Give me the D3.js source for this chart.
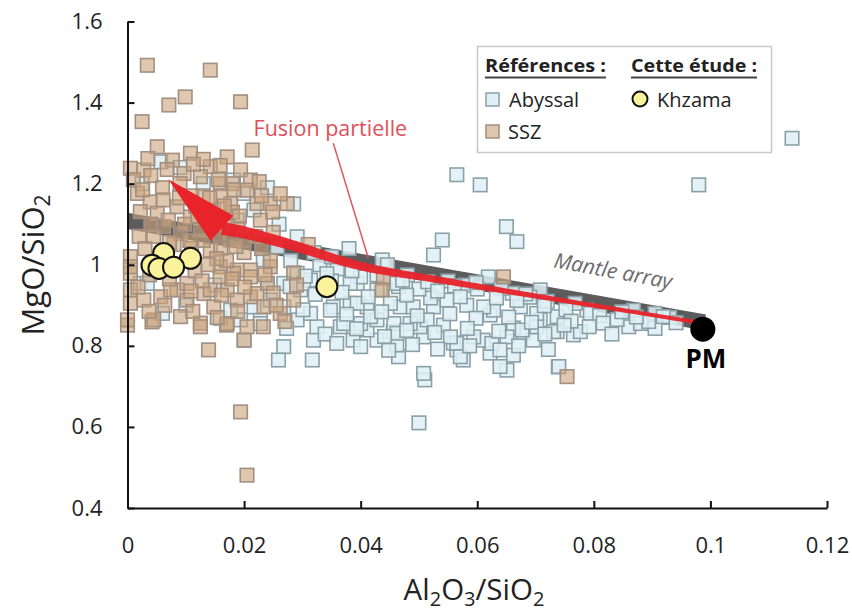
<!DOCTYPE html>
<html><head><meta charset="utf-8">
<script src="https://cdn.jsdelivr.net/npm/d3@7"></script>
<style>
html,body{margin:0;padding:0;background:#fff;}
svg{display:block;font-family:"Open Sans",sans-serif;}
</style></head>
<body>
<svg id="chart" width="852" height="612"></svg>
<script>
// ---------------- DATA ----------------
const xTicks = [0, 0.02, 0.04, 0.06, 0.08, 0.1, 0.12];
const xTickLabels = ["0", "0.02", "0.04", "0.06", "0.08", "0.1", "0.12"];
const yTicks = [0.4, 0.6, 0.8, 1.0, 1.2, 1.4, 1.6];
const yTickLabels = ["0.4", "0.6", "0.8", "1", "1.2", "1.4", "1.6"];

// Abyssal peridotites [Al2O3/SiO2, MgO/SiO2]
const abyssal = [
  [0.114,1.312],[0.098,1.197],[0.0565,1.222],[0.0605,1.197],[0.065,1.094],[0.0668,1.057],[0.054,1.061],[0.0525,1.024],[0.0437,1.012],[0.050,0.61],[0.051,0.716],
  [0.0268,0.798],[0.0259,0.765],[0.0317,0.765],[0.0319,0.814],[0.0465,0.773],[0.0565,0.79],[0.0576,0.765],[0.0622,0.782],[0.0651,0.74],[0.0662,0.777],[0.0739,0.748],
  [0.0765,0.827],[0.0737,0.835],[0.0679,0.832],[0.0622,0.876],[0.0387,0.814],[0.04,0.798],[0.0428,0.814],[0.0462,0.802],[0.0508,0.822],[0.0559,0.807],[0.061,0.814],
  [0.0696,0.814],[0.0777,0.835],[0.0708,0.864],[0.0662,0.844],[0.0542,0.851],[0.0502,0.847],[0.0456,0.835],[0.0411,0.839],[0.0365,0.847],[0.0325,0.847],[0.0291,0.864],
  [0.0194,0.864],[0.0788,0.888],[0.0628,0.888],[0.0468,0.896],[0.0353,0.896],[0.0525,0.896],[0.0582,0.9],
  [0.0619,0.97],[0.0708,0.938],[0.0768,0.905],[0.0868,0.888],[0.0905,0.88],[0.0905,0.843],[0.086,0.847],[0.0794,0.88],[0.0731,0.835],[0.0702,0.847],[0.0677,0.839],
  [0.0651,0.822],[0.0625,0.806],[0.0594,0.822],[0.0565,0.806],[0.0571,0.773],[0.0508,0.732],[0.0639,0.749],[0.074,0.749],[0.0434,0.938],[0.0465,0.946],[0.0394,0.954],
  [0.049,0.896],[0.052,0.918],[0.0548,0.913],[0.0611,0.896],[0.0674,0.896],[0.0702,0.88],[0.0737,0.872],[0.04,0.855],[0.0428,0.864],[0.0457,0.855],[0.0485,0.855],
  [0.0514,0.864],[0.0382,0.905],[0.0411,0.896],[0.0451,0.905],[0.0462,0.831],[0.0554,0.822],
  [0.0446,1.0],[0.036,0.99],[0.033,1.0],[0.048,0.975],[0.055,0.96],[0.058,0.95],[0.066,0.93],[0.069,0.92],[0.072,0.91],[0.081,0.875],[0.084,0.865],[0.088,0.855],
  [0.093,0.87],[0.06,0.94],[0.05,0.94],[0.04,0.97],[0.035,0.96],[0.045,0.97],
  [0.0022,0.954],[0.02,0.814],[0.0228,0.864],[0.0159,0.868],[0.0291,0.979],[0.0297,0.938],[0.0268,0.896],[0.0314,0.88],[0.0348,0.888],[0.0382,0.954],[0.0394,0.905],
  [0.0428,0.938],[0.0417,0.872],[0.0371,0.855],[0.0268,0.954],[0.0245,0.913],[0.0217,0.896],[0.0177,0.888],[0.0314,0.962],[0.0462,0.954],
  [0.0057,1.254],[0.0182,1.209],[0.0199,1.176],[0.0217,1.135],[0.0188,1.11],[0.0025,1.2],[0.0257,1.044],[0.0291,1.069],[0.024,0.954],[0.0279,0.946],[0.0302,0.954],
  [0.0034,0.954],[0.0233,1.012],[0.0228,0.855],[0.0285,1.15],[0.013,1.2],[0.009,1.24],[0.024,1.19],[0.026,1.1],[0.032,1.03],[0.028,1.01],[0.035,1.02],[0.038,1.04],
  [0.01,0.9],[0.006,0.88],[0.015,0.95],
  [0.0305,0.972],[0.0342,0.978],[0.0385,0.985],[0.0428,0.975],[0.0472,0.962],[0.0515,0.958],[0.0561,0.948],[0.0598,0.956],[0.0641,0.942],[0.0683,0.928],
  [0.0322,0.927],[0.0368,0.932],[0.0413,0.921],[0.0479,0.925],[0.0532,0.935],[0.0571,0.921],[0.0633,0.918],[0.0668,0.912],[0.0715,0.899],[0.0752,0.889],
  [0.0301,0.889],[0.0376,0.878],[0.0436,0.884],[0.0497,0.874],[0.0553,0.879],[0.0598,0.868],[0.0654,0.871],[0.0693,0.858],[0.0761,0.861],[0.0816,0.856],[0.0848,0.884],
  [0.0273,0.843],[0.0339,0.829],[0.0393,0.842],[0.0441,0.823],[0.0479,0.838],[0.0527,0.833],[0.0583,0.843],[0.0637,0.836],[0.0716,0.829],[0.0749,0.851],[0.0792,0.847],[0.0831,0.829],
  [0.0359,0.806],[0.0448,0.789],[0.0489,0.803],[0.0532,0.792],[0.0587,0.8],[0.0639,0.79],[0.0671,0.8],[0.0722,0.791],
  [0.0894,0.86],[0.0919,0.872],[0.0873,0.871],[0.0941,0.857]
];

// Supra-subduction zone peridotites
const ssz = [
  [0.0034,1.492],[0.0142,1.48],[0.0099,1.414],[0.0071,1.394],[0.0194,1.402],[0.0025,1.353],[0.0214,1.283],[0.0194,0.637],[0.0205,0.481],[0.0139,0.79],[0.0754,0.724],
  [0.0645,0.97],[0.0439,0.967],[0.0437,0.938],
  [0.0,0.851],[0.0042,0.859],[0.020,0.814],[0.0233,0.847],[0.0125,0.856],[0.017,0.851],
  [0.0051,1.291],[0.0108,1.275],[0.0005,1.238],[0.0028,1.234],[0.0077,1.258],[0.0171,1.266],[0.0194,1.234],[0.0211,1.209],[0.0142,1.242],[0.0125,1.217],[0.0097,1.225],
  [0.0159,1.2],[0.0017,1.176],[0.0039,1.155],[0.0051,1.127],[0.0022,1.131],[0.0085,1.143],[0.0108,1.118],[0.0148,1.135],[0.0177,1.151],[0.0205,1.184],[0.0222,1.151],
  [0.0245,1.151],[0.0274,1.151],[0.0228,1.11],[0.0062,1.094],[0.0091,1.077],[0.0125,1.086],[0.0142,1.036],[0.0177,1.061],[0.02,1.061],[0.0159,0.995],[0.0188,0.987],
  [0.0211,0.987],[0.0245,0.995],[0.0285,0.98],[0.0005,1.02],[0.0005,0.979],[0.0005,0.938],[0.0028,0.913],[0.0057,0.921],[0.0085,0.938],[0.0102,0.913],[0.0131,0.929],
  [0.0148,0.896],[0.0171,0.938],[0.0188,0.913],[0.0211,0.921],[0.0234,0.896],[0.0262,0.88],[0.0285,0.913],[0.0,0.864],[0.0045,0.864],[0.0091,0.872],[0.0125,0.847],
  [0.0171,0.855],[0.0205,0.847],
  [0.0005,0.905],[0.0005,0.995],[0.0102,0.954],[0.0074,0.938],[0.0142,0.938],[0.0159,0.97],[0.0182,0.979],[0.0211,0.97],[0.0222,0.929],[0.024,0.954],[0.0245,1.01],
  [0.013,1.17],[0.016,1.17],[0.018,1.13],[0.015,1.1],[0.012,1.12],[0.019,1.09],[0.016,1.04],[0.013,1.06],[0.017,1.01],[0.011,1.04],[0.02,1.03],[0.007,1.11],[0.004,1.1],
  [0.002,1.07],[0.003,1.04],[0.008,1.05],[0.006,1.19],[0.009,1.2],[0.011,1.17],[0.001,1.21],[0.004,1.22],[0.013,1.26],[0.018,1.2],[0.022,1.07],[0.023,1.04],[0.025,1.08],
  [0.027,0.86],[0.025,0.93],[0.029,0.95],[0.031,1.05],[0.023,1.17],
  [0.0156,1.21],[0.0183,1.185],[0.0166,1.145],[0.0192,1.12],[0.0141,1.165],[0.0172,1.095],[0.0158,1.075],[0.0186,1.045],[0.0153,1.015],[0.0179,0.965],[0.0161,0.925],
  [0.0189,0.885],[0.0154,0.87],[0.0116,0.985],[0.0128,0.96],[0.0109,0.935],[0.0072,0.965],[0.0038,0.975],[0.0018,0.945],[0.0064,0.9],[0.0037,0.885],[0.0112,0.885],
  [0.0226,1.205],[0.0249,1.13],[0.0262,1.175],[0.0236,0.975],[0.0255,0.9],[0.0201,0.945],
  [0.0068,1.235],[0.0035,1.262],[0.0113,1.248],[0.0159,1.245],[0.0089,1.165],[0.0061,1.16],[0.0026,1.185],[0.0117,1.145],[0.0072,1.055],[0.0045,1.07],[0.0098,1.1],
  [0.0133,1.115],[0.0107,1.06],[0.0138,1.0]
];

// This study (Khzama)
const khzama = [[0.0062,1.028],[0.0108,1.016],[0.0042,0.999],[0.0054,0.991],[0.0079,0.994],[0.0342,0.946]];

// Primitive mantle
const pm = [0.0987, 0.841];
// Mantle array (endpoints)
const mantleArray = [[0, 1.108], [0.099, 0.858]];
// Partial melting trend (from PM toward depleted compositions)
const meltingPath = [[0.0982,0.857],[0.0879,0.881],[0.0708,0.921],[0.0537,0.962],[0.0399,0.997],[0.0285,1.047],[0.0205,1.078],[0.0162,1.09]];
const meltingTip = [0.007, 1.211];
const fusionLeader = [[0.0353, 1.300], [0.0413, 1.017]];

// ---------------- CHART ----------------
const svg = d3.select("#chart");
const x = d3.scaleLinear().domain([0, 0.12]).range([127.5, 827]);
const y = d3.scaleLinear().domain([0.4, 1.6]).range([508, 21.5]);

const plot = svg.append("g");
plot.append("clipPath").attr("id","clip").append("rect")
  .attr("x", 127.5).attr("y", 0).attr("width", 730).attr("height", 508);

// Mantle array band
plot.append("line")
  .attr("x1", x(mantleArray[0][0])).attr("y1", y(mantleArray[0][1]))
  .attr("x2", x(mantleArray[1][0])).attr("y2", y(mantleArray[1][1]))
  .attr("stroke", "#5c5c5c").attr("stroke-width", 16).attr("clip-path","url(#clip)");

// Abyssal squares
const S = 13.5;
plot.append("g").selectAll("rect").data(abyssal).join("rect")
  .attr("x", d => x(d[0]) - S/2).attr("y", d => y(d[1]) - S/2)
  .attr("width", S).attr("height", S)
  .attr("fill", "#dff0f6").attr("fill-opacity", 0.85)
  .attr("stroke", "#8aa0a8").attr("stroke-width", 1.6);

// SSZ squares
plot.append("g").selectAll("rect").data(ssz).join("rect")
  .attr("x", d => x(d[0]) - S/2).attr("y", d => y(d[1]) - S/2)
  .attr("width", S).attr("height", S)
  .attr("fill", "#c9a27b").attr("fill-opacity", 0.6)
  .attr("stroke", "#a28f80").attr("stroke-width", 1.6);

// Red partial-melting arrow (tapered shaft)
const shaftPts = meltingPath.map(d => [x(d[0]), y(d[1])]);
const tmp = svg.append("path").attr("d", d3.line().curve(d3.curveCatmullRom.alpha(0.5))(shaftPts)).attr("fill","none");
const L = tmp.node().getTotalLength();
const N = 90, left = [], right = [];
for (let i = 0; i <= N; i++) {
  const t = i / N;
  const p = tmp.node().getPointAtLength(t * L);
  const q = tmp.node().getPointAtLength(Math.min(L, t * L + 0.5));
  const q0 = tmp.node().getPointAtLength(Math.max(0, t * L - 0.5));
  let dx = q.x - q0.x, dy = q.y - q0.y; const m = Math.hypot(dx, dy) || 1; dx /= m; dy /= m;
  const w = (4 + 9 * t * t) / 2;
  left.push([p.x - dy * w, p.y + dx * w]);
  right.push([p.x + dy * w, p.y - dx * w]);
}
tmp.remove();
plot.append("path").attr("d", d3.line()(left.concat(right.reverse())) + "Z").attr("fill", "#e8232a").attr("fill-opacity", 0.95);

// Arrow head
{
  const b = shaftPts[shaftPts.length - 1];
  const tip = [x(meltingTip[0]), y(meltingTip[1])];
  let dx = tip[0] - b[0], dy = tip[1] - b[1]; const m = Math.hypot(dx, dy); dx /= m; dy /= m;
  const hw = 17;
  plot.append("path")
    .attr("d", d3.line()([[b[0] - dy*hw, b[1] + dx*hw], tip, [b[0] + dy*hw, b[1] - dx*hw]]) + "Z")
    .attr("fill", "#e8232a");
}

// Fusion partielle leader & label
plot.append("line")
  .attr("x1", x(fusionLeader[0][0])).attr("y1", y(fusionLeader[0][1]))
  .attr("x2", x(fusionLeader[1][0])).attr("y2", y(fusionLeader[1][1]))
  .attr("stroke", "#e0545c").attr("stroke-width", 1.5);
svg.append("text").attr("x", x(0.0348)).attr("y", y(1.317))
  .attr("text-anchor", "middle").attr("font-size", 21.5).attr("fill", "#e0505a")
  .text("Fusion partielle");

// Mantle array label
svg.append("text")
  .attr("transform", `translate(${x(0.0833)},${y(0.985)}) rotate(10.5)`)
  .attr("text-anchor", "middle").attr("font-size", 21).attr("font-style", "italic")
  .attr("fill", "#6a6a6a").attr("dy", "0.35em").text("Mantle array");

// Khzama circles
plot.append("g").selectAll("circle").data(khzama).join("circle")
  .attr("cx", d => x(d[0])).attr("cy", d => y(d[1])).attr("r", 10.5)
  .attr("fill", "#faf39c").attr("stroke", "#111").attr("stroke-width", 2);

// PM
plot.append("circle").attr("cx", x(pm[0])).attr("cy", y(pm[1])).attr("r", 12.5).attr("fill", "#000");
svg.append("text").attr("x", x(pm[0]) + 3).attr("y", y(pm[1]) + 39)
  .attr("text-anchor", "middle").attr("font-size", 26).attr("font-weight", "bold").attr("fill", "#000").text("PM");

// Axes
const xAxis = d3.axisBottom(x).tickValues(xTicks).tickFormat((d, i) => xTickLabels[i])
  .tickSizeInner(-7).tickSizeOuter(0).tickPadding(29);
const yAxis = d3.axisLeft(y).tickValues(yTicks).tickFormat((d, i) => yTickLabels[i])
  .tickSizeInner(-7).tickSizeOuter(0).tickPadding(25);
const gx = svg.append("g").attr("transform", "translate(0,508)").call(xAxis);
const gy = svg.append("g").attr("transform", "translate(127.5,0)").call(yAxis);
[gx, gy].forEach(g => {
  g.select(".domain").attr("stroke", "#111").attr("stroke-width", 2);
  g.selectAll(".tick line").attr("stroke", "#111").attr("stroke-width", 2);
  g.selectAll(".tick text").attr("font-size", 22).attr("fill", "#222").attr("font-family", "'Open Sans',sans-serif");
});

// Axis titles
const xt = svg.append("text").attr("x", 474).attr("y", 600).attr("text-anchor", "middle")
  .attr("font-size", 29.5).attr("fill", "#222");
xt.append("tspan").text("Al");
xt.append("tspan").attr("font-size", 20).attr("dy", 6).text("2");
xt.append("tspan").attr("dy", -6).text("O");
xt.append("tspan").attr("font-size", 20).attr("dy", 6).text("3");
xt.append("tspan").attr("dy", -6).text("/SiO");
xt.append("tspan").attr("font-size", 20).attr("dy", 6).text("2");

const yt = svg.append("text").attr("transform", "translate(44,265) rotate(-90)").attr("text-anchor", "middle")
  .attr("font-size", 31).attr("fill", "#222");
yt.append("tspan").text("MgO/SiO");
yt.append("tspan").attr("font-size", 21).attr("dy", 6).text("2");

// Legend
const lg = svg.append("g");
lg.append("rect").attr("x", 477.5).attr("y", 46.5).attr("width", 294).attr("height", 106)
  .attr("fill", "#fff").attr("stroke", "#c8c8c8").attr("stroke-width", 1.5);
const heads = [["Références :", 485, 606], ["Cette étude :", 631, 757]];
heads.forEach(h => {
  lg.append("text").attr("x", h[1]).attr("y", 72).attr("font-size", 18.5).attr("font-weight", "bold")
    .attr("fill", "#222").attr("textLength", h[2] - h[1]).attr("lengthAdjust", "spacingAndGlyphs").text(h[0]);
  lg.append("line").attr("x1", h[1]).attr("x2", h[2]).attr("y1", 77.5).attr("y2", 77.5)
    .attr("stroke", "#444").attr("stroke-width", 1.8);
});
lg.append("rect").attr("x", 486).attr("y", 93).attr("width", 13).attr("height", 13)
  .attr("fill", "#dff0f6").attr("stroke", "#8aa0a8").attr("stroke-width", 1.5);
lg.append("text").attr("x", 509).attr("y", 107).attr("font-size", 20).attr("fill", "#222").text("Abyssal");
lg.append("rect").attr("x", 486).attr("y", 125).attr("width", 13).attr("height", 13)
  .attr("fill", "#dec6af").attr("stroke", "#a28f80").attr("stroke-width", 1.5);
lg.append("text").attr("x", 508).attr("y", 139).attr("font-size", 20).attr("fill", "#222").text("SSZ");
lg.append("circle").attr("cx", 640).attr("cy", 99).attr("r", 7.5)
  .attr("fill", "#faf39c").attr("stroke", "#111").attr("stroke-width", 2);
lg.append("text").attr("x", 657).attr("y", 107).attr("font-size", 20).attr("fill", "#222").text("Khzama");
</script>
</body></html>
